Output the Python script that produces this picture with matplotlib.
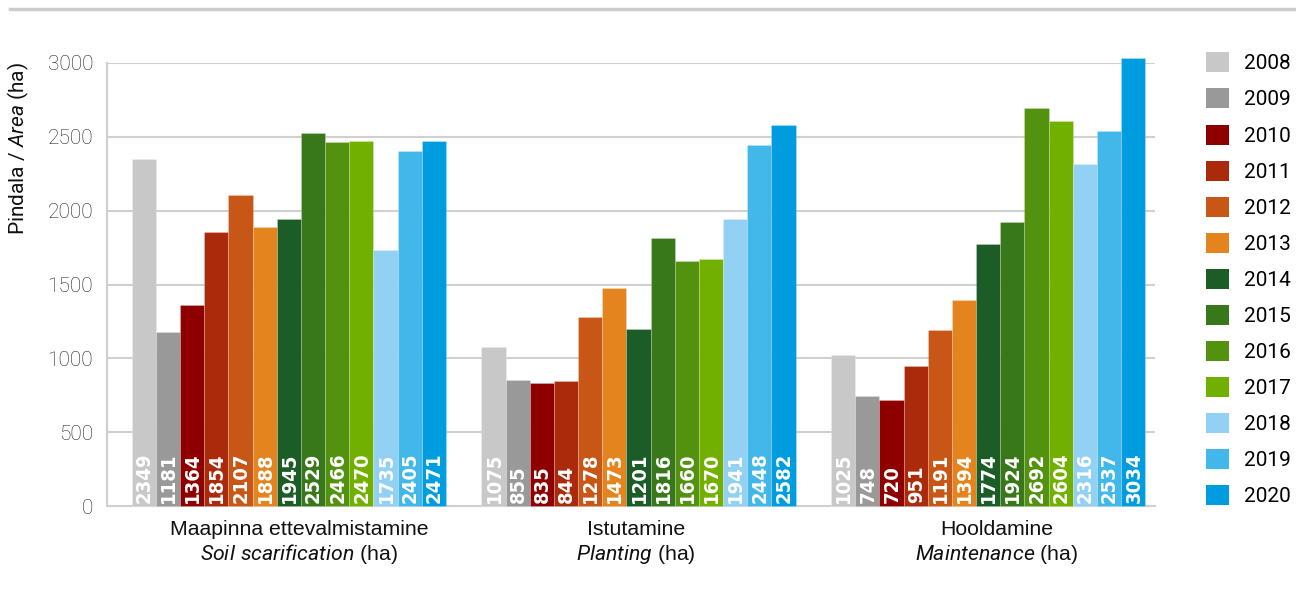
import matplotlib
matplotlib.use("Agg")
import matplotlib.pyplot as plt
import numpy as np
from matplotlib.patches import Patch
from matplotlib.lines import Line2D
from matplotlib import font_manager as fm

years = ["2008", "2009", "2010", "2011", "2012", "2013", "2014",
         "2015", "2016", "2017", "2018", "2019", "2020"]
colors = ["#c8c8c8", "#999999", "#8e0000", "#aa2a0b", "#c85616", "#e4841f",
          "#1c5c26", "#38771a", "#52920e", "#72b000", "#92d1f3", "#42b7ea", "#009ce0"]
cat_line1 = ["Maapinna ettevalmistamine", "Istutamine", "Hooldamine"]
cat_line2_it = ["Soil scarification", "Planting", "Maintenance"]
soil = [2349, 1181, 1364, 1854, 2107, 1888, 1945, 2529, 2466, 2470, 1735, 2405, 2471]
planting = [1075, 855, 835, 844, 1278, 1473, 1201, 1816, 1660, 1670, 1941, 2448, 2582]
maintenance = [1025, 748, 720, 951, 1191, 1394, 1774, 1924, 2692, 2604, 2316, 2537, 3034]
yticks = [0, 500, 1000, 1500, 2000, 2500, 3000]

plt.rcParams['mathtext.fontset'] = 'custom'
plt.rcParams['mathtext.it'] = 'Liberation Sans:italic'
plt.rcParams['mathtext.rm'] = 'Liberation Sans'

# pick a condensed bold font if available
names = {f.name for f in fm.fontManager.ttflist}
cond = [f for f in fm.fontManager.ttflist
        if ('Condensed' in f.fname or 'Narrow' in f.fname) and f.weight in (700, 'bold')]
label_font = None
for f in cond:
    if 'DejaVuSansCondensed-Bold' in f.fname or 'Narrow-Bold' in f.fname:
        label_font = fm.FontProperties(fname=f.fname, size=14.5)
        break
if label_font is None:
    label_font = fm.FontProperties(family='Roboto', weight='bold', size=13)

W, H = 1296, 606
fig = plt.figure(figsize=(W / 100, H / 100), dpi=100)
ax = fig.add_axes([107 / W, 1 - 506 / H, (1155 - 107) / W, (506 - 63) / H])

data = np.array([soil, planting, maintenance])
n = len(years)
bw = 24.2 / 350
x = np.arange(3)
for i in range(n):
    pos = x - (n / 2 - 0.5 - i) * bw
    ax.bar(pos, data[:, i], width=bw, color=colors[i], clip_on=False,
           edgecolor=(1, 1, 1, 0.25), linewidth=0.6, zorder=3, label=years[i])
    for p, v in zip(pos, data[:, i]):
        ax.text(p + 0.0015, 22, str(v), rotation=90, ha='center', va='bottom',
                color='white', fontproperties=label_font, zorder=4)

ax.set_xlim(-0.52, 2.477)
ax.set_ylim(0, 3000)
ax.set_yticks(yticks)
ax.set_yticklabels([str(t) for t in yticks], fontsize=15, color='#222222',
                   family='Roboto', fontweight='light')
ax.tick_params(axis='y', length=0, pad=10)
ax.set_xticks([])
ax.grid(axis='y', color='#d0d0d0', linewidth=1.5, zorder=0)
for s in ['top', 'right']:
    ax.spines[s].set_visible(False)
for s in ['left', 'bottom']:
    ax.spines[s].set_color('#d0d0d0')
    ax.spines[s].set_linewidth(1.5)

label_x = [299, 636, 997]
for lx, l1, l2 in zip(label_x, cat_line1, cat_line2_it):
    fig.text(lx / W, 1 - 535 / H, l1, ha='center', va='baseline', fontsize=15.3,
             family='Liberation Sans', color='#111111')
    fig.text(lx / W, 1 - 560 / H, r"$\it{" + l2.replace(" ", r"\ ") + r"}$" + " (ha)",
             ha='center', va='baseline', fontsize=15.3, family='Liberation Sans',
             color='#111111')

plt.rcParams['mathtext.it'] = 'Roboto:italic'
fig.text(18 / W, 1 - 148 / H, "Pindala / $\\it{Area}$ (ha)", rotation=90,
         ha='center', va='center', fontsize=15, family='Roboto', color='#111111')

# top rule
fig.add_artist(Line2D([10 / W, 1.0], [1 - 9 / H, 1 - 9 / H], color='#cccccc',
                      linewidth=2.5, transform=fig.transFigure))

handles = [Patch(facecolor=c, edgecolor='none') for c in colors]
fig.legend(handles, years, loc='upper left', bbox_to_anchor=(1198 / W, 1 - 44 / H),
           frameon=False, handlelength=1.1, handleheight=1.1,
           handletextpad=0.7, labelspacing=0.72, borderaxespad=0,
           prop={'family': 'Roboto', 'size': 15})

fig.savefig("out.png", dpi=100)
